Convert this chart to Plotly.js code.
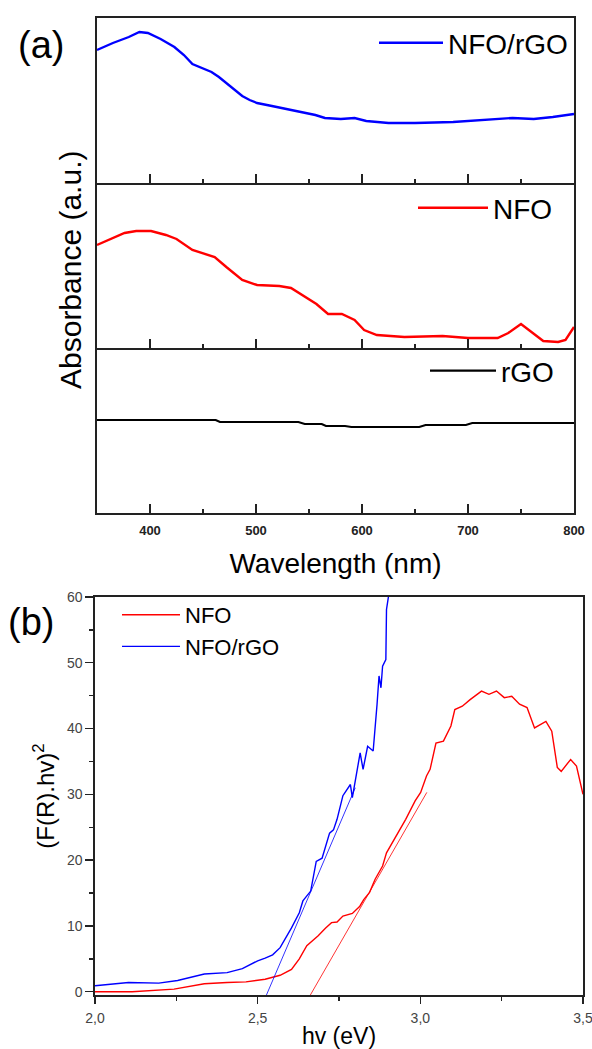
<!DOCTYPE html>
<html>
<head>
<meta charset="utf-8">
<script src="https://cdn.plot.ly/plotly-3.0.1.min.js"></script>
<style>html,body{margin:0;padding:0;background:#fff;}#chart{width:592px;height:1049px;}</style>
</head>
<body>
<div id="chart"></div>
<script>
// ---------- Panel (a): absorbance spectra (arbitrary units, stacked panels) ----------
const wlNfoRgo = [350,365,380,390,398,410,423,432,440,450,458,465,472,480,487,494,501,515,529,545,556,565,580,593,604,625,650,686,718,742,762,780,800];
const absNfoRgo = [133,140,146,151,150,144,136,128,119,115,111,106,100,93,87,83,80,77,74,71,68,65,64,65,62,60,60,61,63,65,64,66,69];

const wlNfo = [350,365,376,387,401,415,425,440,451,461,472,487,501,522,533,543,557,568,581,593,602,614,640,676,700,728,738,750,760,771,785,792,800];
const absNfo = [103,110,115,117,117,113,109,98,94,91,81,68,63,62,60,53,44,34,34,28,18,13,11,12,10,10,15,24,16,7,6,8,21];

const wlRgo = [350,462,466,540,546,562,566,584,590,654,660,698,704,800];
const absRgo = [93,93,91,91,89,89,87,87,86,86,88,88,90,90];

const wlTicks = [400,500,600,700,800];

// ---------- Panel (b): Tauc plot ----------
const eNfo = [2.0,2.114,2.243,2.336,2.406,2.464,2.523,2.569,2.604,2.628,2.651,2.686,2.709,2.727,2.744,2.762,2.791,2.814,2.826,2.844,2.861,2.884,2.896,2.92,2.943,2.955,2.984,3.001,3.019,3.03,3.048,3.071,3.094,3.106,3.129,3.153,3.188,3.211,3.234,3.258,3.281,3.305,3.328,3.351,3.386,3.404,3.421,3.433,3.462,3.48,3.5];
const fNfo = [0,0,0.4,1.2,1.4,1.5,1.9,2.5,3.4,5.0,7.0,8.5,9.7,10.5,10.6,11.5,11.9,13.0,14.0,15.1,17.1,19.1,21.1,23.1,25.2,26.2,29.0,30.3,32.8,33.8,37.8,38.1,40.4,42.9,43.4,44.4,45.7,45.2,45.7,44.7,44.9,43.7,43.2,40.1,41.1,39.6,34.1,33.5,35.3,34.3,30.0];

const eNfoRgo = [2.0,2.09,2.103,2.196,2.254,2.336,2.406,2.453,2.5,2.523,2.546,2.569,2.587,2.604,2.628,2.639,2.663,2.68,2.698,2.721,2.733,2.744,2.762,2.785,2.791,2.809,2.815,2.824,2.838,2.855,2.861,2.867,2.873,2.879,2.884,2.894,2.896,2.908];
const fNfoRgo = [0.9,1.3,1.4,1.3,1.7,2.7,2.9,3.5,4.7,5.1,5.6,6.7,8.2,9.7,12.0,13.8,15.3,19.8,20.3,24.1,24.6,26.2,29.8,31.5,29.5,34.8,36.3,33.8,37.3,36.6,39.9,43.7,48.0,46.2,49.5,50.5,58.1,62];

// linear extrapolation (band gap) lines
const fitENfo = [2.662, 3.02];
const fitFNfo = [-0.5, 30.3];
const fitENfoRgo = [2.527, 2.80];
const fitFNfoRgo = [-0.5, 31];

const W = 592, H = 1049;
const px = v => v / W;
const py = v => 1 - v / H;

const FONT = 'Liberation Sans, Arial, sans-serif';

const traces = [
  {x: wlNfoRgo, y: absNfoRgo, xaxis: 'x2', yaxis: 'y2', mode: 'lines', name: 'NFO/rGO',
   line: {color: '#0000ff', width: 2.4}, legend: 'legend2'},
  {x: wlNfo, y: absNfo, xaxis: 'x3', yaxis: 'y3', mode: 'lines', name: 'NFO',
   line: {color: '#ff0000', width: 2.4}, legend: 'legend3'},
  {x: wlRgo, y: absRgo, xaxis: 'x4', yaxis: 'y4', mode: 'lines', name: 'rGO',
   line: {color: '#000000', width: 2.2}, legend: 'legend4'},
  {x: eNfo, y: fNfo, xaxis: 'x', yaxis: 'y', mode: 'lines', name: 'NFO',
   line: {color: '#ff0000', width: 1.4}, legend: 'legend'},
  {x: eNfoRgo, y: fNfoRgo, xaxis: 'x', yaxis: 'y', mode: 'lines', name: 'NFO/rGO',
   line: {color: '#0000ff', width: 1.4}, legend: 'legend'},
  {x: fitENfo, y: fitFNfo, xaxis: 'x', yaxis: 'y', mode: 'lines', showlegend: false,
   line: {color: '#ff0000', width: 0.8}},
  {x: fitENfoRgo, y: fitFNfoRgo, xaxis: 'x', yaxis: 'y', mode: 'lines', showlegend: false,
   line: {color: '#0000ff', width: 0.8}}
];

const aDomX = [px(97), px(574)];
const panelA = [[18,183],[183,348],[348,513]];
function aX(anchor, showLabels, mirror) {
  return {
    domain: aDomX, anchor: anchor, range: [350, 800],
    showline: true, mirror: mirror, linecolor: '#222', linewidth: 1.6,
    ticks: 'inside', ticklen: 9, tickwidth: 1.5, tickcolor: '#222',
    tickvals: wlTicks, showgrid: false, zeroline: false,
    minor: {ticks: 'inside', ticklen: 4, tickwidth: 1.5, tickcolor: '#222', dtick: 50, tick0: 350, showgrid: false},
    showticklabels: showLabels, ticklabelstandoff: 5,
    tickfont: {family: FONT, size: 13, color: '#222', weight: 'bold'}
  };
}
function aY(anchor, pan) {
  return {
    domain: [py(pan[1]), py(pan[0])], anchor: anchor, range: [0, 165],
    showline: true, mirror: true, linecolor: '#222', linewidth: 1.6,
    showticklabels: false, ticks: '', showgrid: false, zeroline: false, fixedrange: true
  };
}

const layout = {
  width: W, height: H,
  margin: {l: 0, r: 0, t: 0, b: 0},
  paper_bgcolor: '#fff', plot_bgcolor: 'rgba(0,0,0,0)',
  separators: ',.',
  font: {family: FONT, color: '#000'},
  xaxis2: aX('y2', false, true),
  xaxis3: aX('y3', false, false),
  xaxis4: Object.assign(aX('y4', true, false), {
    title: {text: 'Wavelength (nm)', font: {family: FONT, size: 28, color: '#000'}, standoff: 16}
  }),
  yaxis2: aY('x2', panelA[0]),
  yaxis3: aY('x3', panelA[1]),
  yaxis4: aY('x4', panelA[2]),
  xaxis: {
    domain: [px(95), px(583)], anchor: 'y', range: [2.0, 3.5],
    showline: true, mirror: true, linecolor: '#222', linewidth: 1.6,
    ticks: 'outside', ticklen: 7, tickwidth: 1.4, tickcolor: '#222',
    dtick: 0.5, tick0: 2.0, tickformat: '.1f', showgrid: false, zeroline: false,
    minor: {ticks: 'outside', ticklen: 4, tickwidth: 1.4, tickcolor: '#222', dtick: 0.25, showgrid: false},
    tickfont: {family: FONT, size: 14, color: '#444'}, ticklabelstandoff: 3, ticklabeloverflow: 'allow',
    title: {text: 'hv (eV)', font: {family: FONT, size: 23, color: '#000'}, standoff: 5}
  },
  yaxis: {
    domain: [py(995), py(597)], anchor: 'x', range: [-0.5, 60],
    showline: true, mirror: true, linecolor: '#222', linewidth: 1.6,
    ticks: 'outside', ticklen: 8, tickwidth: 1.4, tickcolor: '#222',
    dtick: 10, tick0: 0, showgrid: false, zeroline: false,
    minor: {ticks: 'outside', ticklen: 4, tickwidth: 1.4, tickcolor: '#222', dtick: 5, showgrid: false},
    tickfont: {family: FONT, size: 14, color: '#444'}, ticklabeloverflow: 'allow',
    title: {text: '(F(R).hv)<sup>2</sup>', font: {family: FONT, size: 24, color: '#000'}, standoff: 5}
  },
  legend: {x: px(117), y: py(594), xanchor: 'left', yanchor: 'top', bgcolor: 'rgba(0,0,0,0)',
    font: {family: FONT, size: 22, color: '#000'}, itemwidth: 58, tracegroupgap: 0},
  legend2: {x: px(374), y: py(18), xanchor: 'left', yanchor: 'top', bgcolor: 'rgba(0,0,0,0)',
    font: {family: FONT, size: 28, color: '#000'}, itemwidth: 64},
  legend3: {x: px(413), y: py(183), xanchor: 'left', yanchor: 'top', bgcolor: 'rgba(0,0,0,0)',
    font: {family: FONT, size: 28, color: '#000'}, itemwidth: 70},
  legend4: {x: px(425), y: py(346), xanchor: 'left', yanchor: 'top', bgcolor: 'rgba(0,0,0,0)',
    font: {family: FONT, size: 28, color: '#000'}, itemwidth: 66},
  annotations: [
    {text: 'Absorbance (a.u.)', xref: 'paper', yref: 'paper', x: px(70), y: py(270),
     xanchor: 'center', yanchor: 'middle', textangle: -90, showarrow: false,
     font: {family: FONT, size: 30, color: '#000'}},
    {text: '(a)', xref: 'paper', yref: 'paper', x: px(41), y: py(45),
     xanchor: 'center', yanchor: 'middle', showarrow: false,
     font: {family: FONT, size: 38, color: '#000'}},
    {text: '(b)', xref: 'paper', yref: 'paper', x: px(31), y: py(622),
     xanchor: 'center', yanchor: 'middle', showarrow: false,
     font: {family: FONT, size: 38, color: '#000'}}
  ],
  showlegend: true
};

Plotly.newPlot('chart', traces, layout, {displayModeBar: false, staticPlot: true});
</script>
</body>
</html>
